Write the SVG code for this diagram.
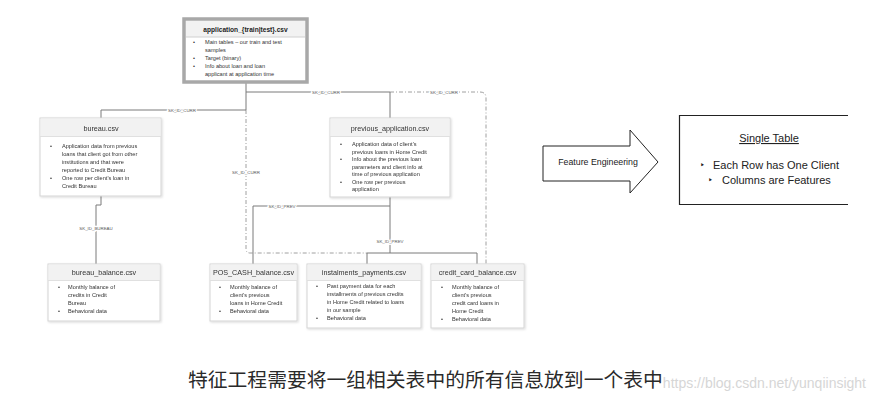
<svg xmlns="http://www.w3.org/2000/svg" width="872" height="401" viewBox="0 0 872 401">
<style>
.box{fill:#fff;stroke:#d4d4d4;stroke-width:1}
.hdr{fill:#f2f2f2;stroke:none}
.title{font-family:"Liberation Sans",Arial,sans-serif;font-size:7.2px;fill:#333;text-anchor:middle}
.bt{font-family:"Liberation Sans",Arial,sans-serif;font-size:5.6px;fill:#333}
.conn{fill:none;stroke:#7a7a7a;stroke-width:1}
.dd{fill:none;stroke:#a0a0a0;stroke-width:1;stroke-dasharray:4 2 1 2}
.lbl{font-family:"Liberation Sans",Arial,sans-serif;font-size:4.4px;fill:#555;text-anchor:middle;stroke:#fff;stroke-width:2.5px;paint-order:stroke}
.st{font-family:"Liberation Sans",Arial,sans-serif;font-size:11px;fill:#222}
.tri{font-family:"DejaVu Sans",sans-serif;font-size:8px;fill:#222}
</style>
<defs>
<filter id="sh" x="-5%" y="-5%" width="112%" height="115%"><feDropShadow dx="1" dy="1" stdDeviation="0.8" flood-color="#000" flood-opacity="0.15"/></filter>
</defs>
<rect width="872" height="401" fill="#fff"/>

<g id="connectors">
<path class="dd" d="M390,92 H480 Q486,92 486,98 V264"/>
<path class="dd" d="M246,110 V249 Q246,253 250,253 H367"/>
<path class="conn" d="M246,83 V110 H101 V118"/>
<path class="conn" d="M246,92 H390 V118"/>
<path class="conn" d="M101,196 V205 H96 V264"/>
<path class="conn" d="M390,197 V253"/>
<path class="conn" d="M367,264 V253 H477 V264"/>
<path class="conn" d="M390,206 H253 V264"/>
<text class="lbl" x="182" y="111.5">SK_ID_CURR</text>
<text class="lbl" x="326" y="93.5">SK_ID_CURR</text>
<text class="lbl" x="444" y="93.5">SK_ID_CURR</text>
<text class="lbl" x="246" y="173.5">SK_ID_CURR</text>
<text class="lbl" x="96" y="229.5">SK_ID_BUREAU</text>
<text class="lbl" x="282" y="207.5">SK_ID_PREV</text>
<text class="lbl" x="390" y="242.5">SK_ID_PREV</text>
</g>

<g id="application">
<rect x="184" y="19" width="123" height="63" fill="#fff" stroke="#a8a8a8" stroke-width="3.5"/>
<rect x="186" y="21" width="119" height="16" fill="#f2f2f2"/>
<line x1="186" y1="37" x2="305" y2="37" stroke="#d0d0d0"/>
<text x="245.5" y="32" font-family="Liberation Sans,Arial,sans-serif" font-size="6.6" font-weight="bold" fill="#222" text-anchor="middle">application_{train|test}.csv</text>
<g class="bt">
<text x="193" y="44">•</text><text x="205" y="44">Main tables – our train and test</text>
<text x="205" y="52">samples</text>
<text x="193" y="60">•</text><text x="205" y="60">Target (binary)</text>
<text x="193" y="68">•</text><text x="205" y="68">Info about loan and loan</text>
<text x="205" y="76">applicant at application time</text>
</g>
</g>

<g id="bureau" filter="url(#sh)">
<rect class="box" x="40" y="118" width="121" height="78"/>
<rect class="hdr" x="40.5" y="118.5" width="120" height="18"/>
<line x1="40" y1="136.5" x2="161" y2="136.5" stroke="#e0e0e0"/>
<text class="title" x="101" y="130.5">bureau.csv</text>
<g class="bt">
<text x="50" y="148">•</text><text x="62" y="148">Application data from previous</text>
<text x="62" y="156">loans that client got from other</text>
<text x="62" y="164">institutions and that were</text>
<text x="62" y="172">reported to Credit Bureau</text>
<text x="50" y="180">•</text><text x="62" y="180">One row per client's loan in</text>
<text x="62" y="188">Credit Bureau</text>
</g>
</g>

<g id="previous_application" filter="url(#sh)">
<rect class="box" x="330" y="118" width="120" height="79"/>
<rect class="hdr" x="330.5" y="118.5" width="119" height="18"/>
<line x1="330" y1="136.5" x2="450" y2="136.5" stroke="#e0e0e0"/>
<text class="title" x="390" y="130.5">previous_application.csv</text>
<g class="bt">
<text x="340" y="146">•</text><text x="352" y="146">Application data of client's</text>
<text x="352" y="153.5">previous loans in Home Credit</text>
<text x="340" y="161">•</text><text x="352" y="161">Info about the previous loan</text>
<text x="352" y="168.5">parameters and client info at</text>
<text x="352" y="176">time of previous application</text>
<text x="340" y="183.5">•</text><text x="352" y="183.5">One row per previous</text>
<text x="352" y="191">application</text>
</g>
</g>

<g id="bureau_balance" filter="url(#sh)">
<rect class="box" x="48" y="264" width="112" height="57"/>
<rect class="hdr" x="48.5" y="264.5" width="111" height="16"/>
<line x1="48" y1="280.5" x2="160" y2="280.5" stroke="#e0e0e0"/>
<text class="title" x="104" y="275">bureau_balance.csv</text>
<g class="bt">
<text x="58" y="289">•</text><text x="68" y="289">Monthly balance of</text>
<text x="68" y="297">credits in Credit</text>
<text x="68" y="305">Bureau</text>
<text x="58" y="313">•</text><text x="68" y="313">Behavioral data</text>
</g>
</g>

<g id="pos_cash_balance" filter="url(#sh)">
<rect class="box" x="210" y="264" width="87" height="57"/>
<rect class="hdr" x="210.5" y="264.5" width="86" height="16"/>
<line x1="210" y1="280.5" x2="297" y2="280.5" stroke="#e0e0e0"/>
<text class="title" x="253.5" y="275">POS_CASH_balance.csv</text>
<g class="bt">
<text x="219" y="289">•</text><text x="230" y="289">Monthly balance of</text>
<text x="230" y="297">client's previous</text>
<text x="230" y="305">loans in Home Credit</text>
<text x="219" y="313">•</text><text x="230" y="313">Behavioral data</text>
</g>
</g>

<g id="installments_payments" filter="url(#sh)">
<rect class="box" x="307" y="264" width="114" height="64"/>
<rect class="hdr" x="307.5" y="264.5" width="113" height="16"/>
<line x1="307" y1="280.5" x2="421" y2="280.5" stroke="#e0e0e0"/>
<text class="title" x="364" y="275">instalments_payments.csv</text>
<g class="bt">
<text x="316" y="288">•</text><text x="327" y="288">Past payment data for each</text>
<text x="327" y="296">installments of previous credits</text>
<text x="327" y="304">in Home Credit related to loans</text>
<text x="327" y="312">in our sample</text>
<text x="316" y="320">•</text><text x="327" y="320">Behavioral data</text>
</g>
</g>

<g id="credit_card_balance" filter="url(#sh)">
<rect class="box" x="431" y="264" width="93" height="64"/>
<rect class="hdr" x="431.5" y="264.5" width="92" height="16"/>
<line x1="431" y1="280.5" x2="524" y2="280.5" stroke="#e0e0e0"/>
<text class="title" x="477.5" y="275">credit_card_balance.csv</text>
<g class="bt">
<text x="441" y="289">•</text><text x="452" y="289">Monthly balance of</text>
<text x="452" y="297">client's previous</text>
<text x="452" y="305">credit card loans in</text>
<text x="452" y="313">Home Credit</text>
<text x="441" y="321">•</text><text x="452" y="321">Behavioral data</text>
</g>
</g>

<g id="feature_engineering">
<path d="M543,146 H630 V130 L658,162 L630,193 V181 H543 Z" fill="#fff" stroke="#222" stroke-width="1"/>
<text x="598" y="165" font-family="Liberation Sans,Arial,sans-serif" font-size="8.8" fill="#222" text-anchor="middle">Feature Engineering</text>
</g>

<g id="single_table">
<rect x="680" y="116" width="168" height="88" fill="#fff"/>
<path d="M848,115.5 H679.5 V204.5 H848" fill="none" stroke="#222" stroke-width="1.2"/>
<text x="769" y="142" class="st" text-anchor="middle" text-decoration="underline">Single Table</text>
<text x="700" y="168" class="tri">‣</text>
<text x="713" y="169" class="st">Each Row has One Client</text>
<text x="708" y="183" class="tri">‣</text>
<text x="722" y="184" class="st">Columns are Features</text>
</g>

<text x="866" y="388" font-family="Liberation Sans,Arial,sans-serif" font-size="14" fill="#d6d6d6" text-anchor="end">https://blog.csdn.net/yunqiinsight</text>
<text x="188" y="387" font-family="Noto Sans CJK SC,sans-serif" font-size="19.8" fill="#2a2a2a">特征工程需要将一组相关表中的所有信息放到一个表中</text>
</svg>
